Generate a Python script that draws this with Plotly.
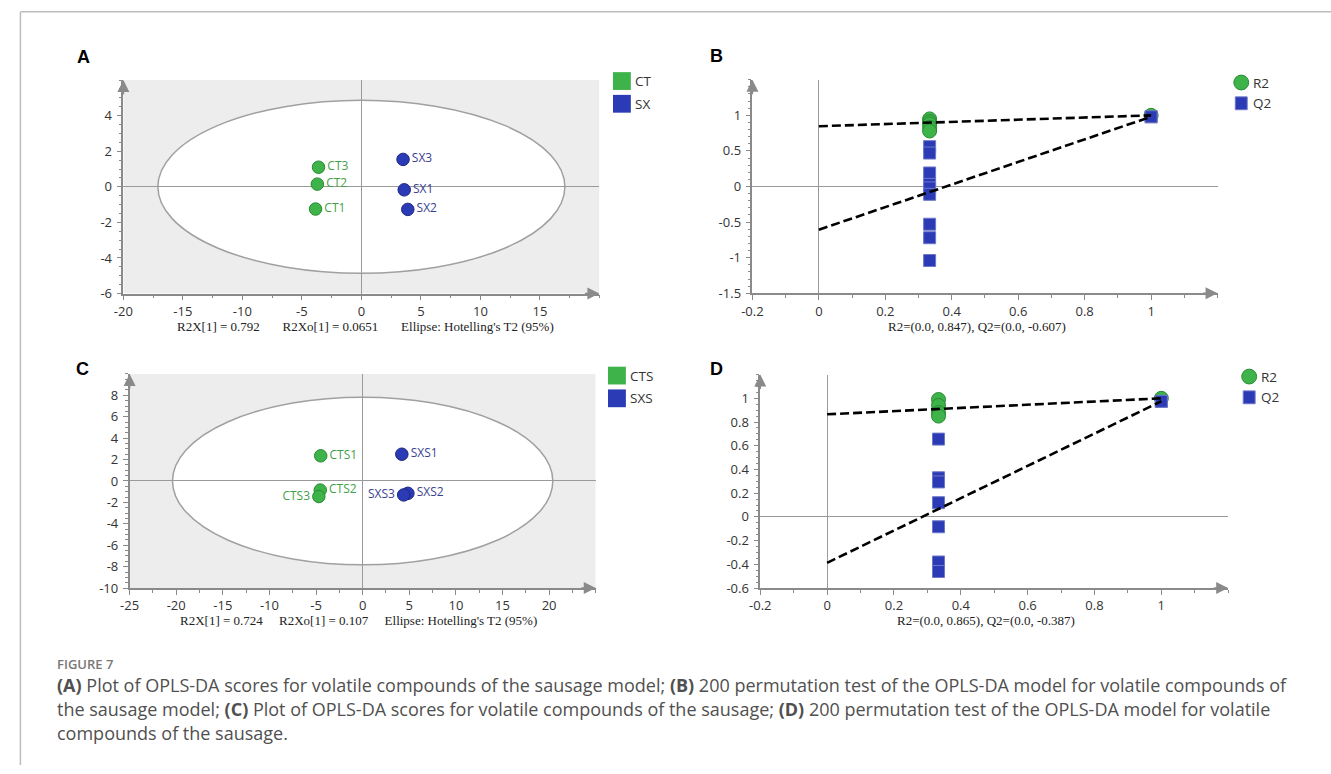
import numpy as np
import plotly.graph_objects as go

W, H = 1331, 774

# ---------------- data ----------------
# Panel A: OPLS-DA scores (sausage model)
a_ct_names = ["CT1", "CT2", "CT3"]
a_ct_x = [-3.85, -3.7, -3.6]
a_ct_y = [-1.25, 0.15, 1.1]
a_sx_names = ["SX1", "SX2", "SX3"]
a_sx_x = [3.6, 3.9, 3.5]
a_sx_y = [-0.17, -1.27, 1.54]
a_ellipse = (17.1, 4.86)  # semi-axes of Hotelling's T2 ellipse

# Panel B: permutation test
b_r2_x = [1/3, 1/3, 1/3, 1/3, 1/3, 1.0]
b_r2_y = [0.95, 0.91, 0.88, 0.83, 0.78, 1.0]
b_q2_x = [1/3] * 9 + [1.0]
b_q2_y = [0.56, 0.47, 0.19, 0.03, -0.02, -0.11, -0.53, -0.72, -1.04, 0.98]
b_r2_line = ([0.0, 1.0], [0.847, 1.0])
b_q2_line = ([0.0, 1.0], [-0.607, 0.98])

# Panel C: OPLS-DA scores (sausage)
c_cts_names = ["CTS1", "CTS2", "CTS3"]
c_cts_x = [-4.5, -4.55, -4.7]
c_cts_y = [2.35, -0.85, -1.45]
c_sxs_names = ["SXS1", "SXS2", "SXS3"]
c_sxs_x = [4.2, 4.85, 4.4]
c_sxs_y = [2.5, -1.15, -1.3]
c_ellipse = (20.4, 7.83)

# Panel D: permutation test
d_r2_x = [1/3, 1/3, 1/3, 1/3, 1.0]
d_r2_y = [0.99, 0.94, 0.88, 0.85, 1.0]
d_q2_x = [1/3] * 7 + [1.0]
d_q2_y = [0.656, 0.33, 0.295, 0.12, -0.083, -0.38, -0.46, 0.975]
d_r2_line = ([0.0, 1.0], [0.865, 1.0])
d_q2_line = ([0.0, 1.0], [-0.387, 0.975])

# tick labels
a_xticks = [-20, -15, -10, -5, 0, 5, 10, 15]
a_yticks = [-6, -4, -2, 0, 2, 4]
b_xticks = [-0.2, 0, 0.2, 0.4, 0.6, 0.8, 1]
b_yticks = [-1.5, -1, -0.5, 0, 0.5, 1]
c_xticks = [-25, -20, -15, -10, -5, 0, 5, 10, 15, 20]
c_yticks = [-10, -8, -6, -4, -2, 0, 2, 4, 6, 8]
d_xticks = [-0.2, 0, 0.2, 0.4, 0.6, 0.8, 1]
d_yticks = [-0.6, -0.4, -0.2, 0, 0.2, 0.4, 0.6, 0.8, 1]

NB = "\u00a0"
a_title = "R2X[1] = 0.792" + NB * 7 + "R2Xo[1] = 0.0651" + NB * 7 + "Ellipse: Hotelling's T2 (95%)"
b_title = "R2=(0.0, 0.847), Q2=(0.0, -0.607)"
c_title = "R2X[1] = 0.724" + NB * 5 + "R2Xo[1] = 0.107" + NB * 5 + "Ellipse: Hotelling's T2 (95%)"
d_title = "R2=(0.0, 0.865), Q2=(0.0, -0.387)"

caption_lines = [
    "<b>(A)</b> Plot of OPLS-DA scores for volatile compounds of the sausage model; <b>(B)</b> 200 permutation test of the OPLS-DA model for volatile compounds of",
    "the sausage model; <b>(C)</b> Plot of OPLS-DA scores for volatile compounds of the sausage; <b>(D)</b> 200 permutation test of the OPLS-DA model for volatile",
    "compounds of the sausage.",
]

# ---------------- styles ----------------
GREEN = "#3db34a"
GREEN_EDGE = "#2a8a35"
BLUE = "#2b3bb5"
BLUE_EDGE = "#1c267f"
Q2_EDGE = "#6f78c8"
GREEN_TXT = "#3f9f45"
BLUE_TXT = "#3c3f93"
AXIS = "#8a8a8a"
TICKFONT = dict(family="Open Sans, Noto Sans, sans-serif", size=13, color="#333333")
SERIF = dict(family="Liberation Serif, Times New Roman, serif", size=13, color="#222222")


def px_x(p):
    return p / W


def px_y(p):
    return 1 - p / H


def fmt(v):
    return "%g" % v


fig = go.Figure()

panels = {
    # name: (xaxis id, yaxis id, x px domain, y px domain(top,bottom), xrange, yrange)
    "A": ("x", "y", (113.3, 593.3), (81, 297), [-20, 20], [-6, 6]),
    "B": ("x2", "y2", (747.6, 1216.6), (80.7, 296.7), [-0.2, 1.2], [-1.5, 1.5]),
    "C": ("x3", "y3", (119.6, 589.6), (378.3, 595), [-25, 25], [-10, 10]),
    "D": ("x4", "y4", (755.5, 1227.3), (379, 595), [-0.2, 1.2], [-0.6, 1.2]),
}
ticks = {
    "A": (a_xticks, a_yticks, 2.5, 0.5),
    "B": (b_xticks, b_yticks, 0.1, 0.1),
    "C": (c_xticks, c_yticks, 2.5, 0.5),
    "D": (d_xticks, d_yticks, 0.1, 0.05),
}

layout_axes = {}
for name, (xa, ya, xdom, ydom, xr, yr) in panels.items():
    xt, yt, xminor, yminor = ticks[name]
    xkey = "xaxis" + xa[1:]
    ykey = "yaxis" + ya[1:]
    xmin_vals = list(np.arange(xr[0], xr[1] + 1e-9, xminor))
    ymin_vals = list(np.arange(yr[0], yr[1] + 1e-9, yminor))
    layout_axes[xkey] = dict(
        domain=[px_x(xdom[0]), px_x(xdom[1])], range=xr, anchor=ya,
        showline=True, linecolor=AXIS, linewidth=1.5, mirror=False,
        showgrid=False, zeroline=True, zerolinecolor="#9a9a9a", zerolinewidth=1.2,
        tickmode="array", tickvals=xt, ticktext=[fmt(v) for v in xt],
        ticks="outside", ticklen=5, tickwidth=1, tickcolor=AXIS,
        tickfont=TICKFONT,
        minor=dict(tickmode="array", tickvals=xmin_vals, ticks="outside", ticklen=3, tickcolor=AXIS, tickwidth=1),
        fixedrange=True,
    )
    layout_axes[ykey] = dict(
        domain=[px_y(ydom[1]), px_y(ydom[0])], range=yr, anchor=xa,
        showline=True, linecolor=AXIS, linewidth=1.5, mirror=False,
        showgrid=False, zeroline=True, zerolinecolor="#9a9a9a", zerolinewidth=1.2,
        tickmode="array", tickvals=yt, ticktext=[fmt(v) for v in yt],
        ticks="outside", ticklen=5, tickwidth=1, tickcolor=AXIS,
        tickfont=TICKFONT, ticklabelstandoff=2,
        minor=dict(tickmode="array", tickvals=ymin_vals, ticks="outside", ticklen=3, tickcolor=AXIS, tickwidth=1),
        fixedrange=True,
    )

shapes = []
annotations = []

# background + ellipses for score plots
for name, ell in (("A", a_ellipse), ("C", c_ellipse)):
    xa, ya, xdom, ydom, xr, yr = panels[name]
    shapes.append(dict(type="rect", xref=xa, yref=ya, x0=xr[0], x1=xr[1], y0=yr[0], y1=yr[1],
                       fillcolor="#ededed", line=dict(width=0), layer="below"))
    shapes.append(dict(type="circle", xref=xa, yref=ya, x0=-ell[0], x1=ell[0], y0=-ell[1], y1=ell[1],
                       fillcolor="white", line=dict(color="#a0a0a0", width=1.5), layer="below"))

# axis arrows
for name, (xa, ya, xdom, ydom, xr, yr) in panels.items():
    annotations.append(dict(xref=xa, yref=ya, x=xr[1], y=yr[0], ax=-16, ay=0, text="", showarrow=True,
                            arrowhead=2, arrowsize=1.6, arrowwidth=1.5, arrowcolor="#8a8a8a"))
    annotations.append(dict(xref=xa, yref=ya, x=xr[0], y=yr[1], ax=0, ay=16, text="", showarrow=True,
                            arrowhead=2, arrowsize=1.6, arrowwidth=1.5, arrowcolor="#8a8a8a"))


def score_traces(xa, ya, names, xs, ys, color, edge, txtcolor, left_names):
    pos = ["middle left" if n in left_names else "middle right" for n in names]
    fig.add_trace(go.Scatter(
        x=xs, y=ys, mode="markers+text", text=names, textposition=pos,
        textfont=dict(family="Open Sans, Noto Sans, sans-serif", size=12, color=txtcolor),
        marker=dict(size=12.5, color=color, line=dict(color=edge, width=1)),
        xaxis=xa, yaxis=ya, showlegend=False, cliponaxis=False))


score_traces("x", "y", a_ct_names, a_ct_x, a_ct_y, GREEN, GREEN_EDGE, GREEN_TXT, [])
score_traces("x", "y", a_sx_names, a_sx_x, a_sx_y, BLUE, BLUE_EDGE, BLUE_TXT, [])
score_traces("x3", "y3", c_cts_names, c_cts_x, c_cts_y, GREEN, GREEN_EDGE, GREEN_TXT, ["CTS3"])
score_traces("x3", "y3", c_sxs_names, c_sxs_x, c_sxs_y, BLUE, BLUE_EDGE, BLUE_TXT, ["SXS3"])


def perm_traces(xa, ya, r2x, r2y, q2x, q2y, r2line, q2line):
    fig.add_trace(go.Scatter(x=q2x, y=q2y, mode="markers", xaxis=xa, yaxis=ya, showlegend=False,
                             marker=dict(symbol="square", size=12, color=BLUE, line=dict(color=Q2_EDGE, width=1))))
    fig.add_trace(go.Scatter(x=r2x, y=r2y, mode="markers", xaxis=xa, yaxis=ya, showlegend=False,
                             marker=dict(symbol="circle", size=14, color=GREEN, line=dict(color=GREEN_EDGE, width=1))))
    # final Q2 point drawn above the final R2 point
    fig.add_trace(go.Scatter(x=q2x[-1:], y=q2y[-1:], mode="markers", xaxis=xa, yaxis=ya, showlegend=False,
                             marker=dict(symbol="square", size=12, color=BLUE, line=dict(color=Q2_EDGE, width=1))))
    for lx, ly in (r2line, q2line):
        fig.add_trace(go.Scatter(x=lx, y=ly, mode="lines", xaxis=xa, yaxis=ya, showlegend=False,
                                 line=dict(color="black", width=2.6, dash="9px,4px")))


perm_traces("x2", "y2", b_r2_x, b_r2_y, b_q2_x, b_q2_y, b_r2_line, b_q2_line)
perm_traces("x4", "y4", d_r2_x, d_r2_y, d_q2_x, d_q2_y, d_r2_line, d_q2_line)

# legends
LEGFONT = dict(family="Open Sans, Noto Sans, sans-serif", size=13.5, color="#333333")


def sq_legend(x0, ytop, labels):
    for i, (lab, col) in enumerate(labels):
        yt = ytop + i * 23
        shapes.append(dict(type="rect", xref="paper", yref="paper", x0=px_x(x0), x1=px_x(x0 + 18),
                           y0=px_y(yt + 18), y1=px_y(yt), fillcolor=col, line=dict(width=0)))
        annotations.append(dict(xref="paper", yref="paper", x=px_x(x0 + 20), y=px_y(yt + 9), text=lab,
                                showarrow=False, xanchor="left", yanchor="middle", font=LEGFONT))


sq_legend(607, 73, [("CT", GREEN), ("SX", BLUE)])
sq_legend(602, 371, [("CTS", GREEN), ("SXS", BLUE)])


def perm_legend(cx, cy):
    shapes.append(dict(type="circle", xref="paper", yref="paper", x0=px_x(cx - 7.5), x1=px_x(cx + 7.5),
                       y0=px_y(cy + 7.5), y1=px_y(cy - 7.5), fillcolor=GREEN, line=dict(color=GREEN_EDGE, width=1)))
    annotations.append(dict(xref="paper", yref="paper", x=px_x(cx + 10), y=px_y(cy), text="R2", showarrow=False,
                            xanchor="left", yanchor="middle", font=LEGFONT))
    cy2 = cy + 21
    shapes.append(dict(type="rect", xref="paper", yref="paper", x0=px_x(cx - 6), x1=px_x(cx + 6),
                       y0=px_y(cy2 + 6.5), y1=px_y(cy2 - 6.5), fillcolor=BLUE, line=dict(color=Q2_EDGE, width=1)))
    annotations.append(dict(xref="paper", yref="paper", x=px_x(cx + 10), y=px_y(cy2), text="Q2", showarrow=False,
                            xanchor="left", yanchor="middle", font=LEGFONT))


perm_legend(1240.5, 83.5)
perm_legend(1248.5, 381)

# panel letters
for lab, x, y in (("A", 73, 58), ("B", 711, 57), ("C", 72, 373), ("D", 711, 373)):
    annotations.append(dict(xref="paper", yref="paper", x=px_x(x), y=px_y(y), text="<b>%s</b>" % lab,
                            showarrow=False, xanchor="center", yanchor="middle",
                            font=dict(family="Liberation Sans, Arial, sans-serif", size=18, color="black")))

# axis titles
for txt, x, y in ((a_title, 357, 330), (b_title, 974, 330), (c_title, 350, 628), (d_title, 983, 628)):
    annotations.append(dict(xref="paper", yref="paper", x=px_x(x), y=px_y(y), text=txt, showarrow=False,
                            xanchor="center", yanchor="middle", font=SERIF))

# caption
annotations.append(dict(xref="paper", yref="paper", x=px_x(44), y=px_y(672), text="FIGURE 7", showarrow=False,
                        xanchor="left", yanchor="middle",
                        font=dict(family="Open Sans, sans-serif", size=13, color="#777777", weight=600)))
for i, line in enumerate(caption_lines):
    annotations.append(dict(xref="paper", yref="paper", x=px_x(44), y=px_y(693 + i * 24.5), text=line,
                            showarrow=False, xanchor="left", yanchor="middle",
                            font=dict(family="Open Sans, sans-serif", size=18, color="#505050")))

# frame lines
shapes.append(dict(type="line", xref="paper", yref="paper", x0=px_x(9.5), x1=1, y0=px_y(12), y1=px_y(12),
                   line=dict(color="#bdbdbd", width=1.5)))
shapes.append(dict(type="line", xref="paper", yref="paper", x0=px_x(9.5), x1=px_x(9.5), y0=px_y(12), y1=0,
                   line=dict(color="#bdbdbd", width=1.5)))

fig.update_layout(
    width=W, height=H, margin=dict(l=0, r=0, t=0, b=0),
    paper_bgcolor="white", plot_bgcolor="rgba(0,0,0,0)",
    showlegend=False, shapes=shapes, annotations=annotations,
    **layout_axes,
)

fig.write_html("out.html", config={"displayModeBar": False})
